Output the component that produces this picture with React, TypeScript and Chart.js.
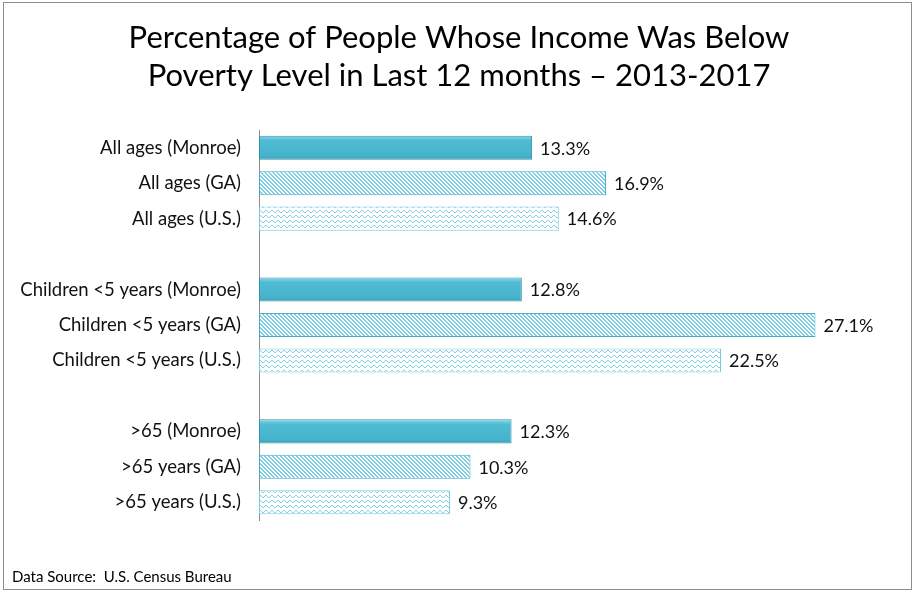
import { useEffect, useRef } from 'react';
import { Chart, registerables } from 'chart.js';
Chart.register(...registerables);

const TITLE_LINES = ['Percentage of People Whose Income Was Below', 'Poverty Level in Last 12 months \u2013 2013-2017'];
const SOURCE = 'Data Source:  U.S. Census Bureau';
const categories = [
  'All ages (Monroe)', 'All ages (GA)', 'All ages (U.S.)', '',
  'Children <5 years (Monroe)', 'Children <5 years (GA)', 'Children <5 years (U.S.)', '',
  '>65 (Monroe)', '>65 years (GA)', '>65 years (U.S.)',
];
const regions = ['Monroe', 'GA', 'US', '', 'Monroe', 'GA', 'US', '', 'Monroe', 'GA', 'US'];
const values = [13.3, 16.9, 14.6, null, 12.8, 27.1, 22.5, null, 12.3, 10.3, 9.3];

const FONT = 'Lato, "Open Sans", sans-serif';

function makeStripe(): CanvasPattern | string {
  const c = document.createElement('canvas');
  c.width = 4; c.height = 4;
  const g = c.getContext('2d')!;
  g.fillStyle = '#ffffff'; g.fillRect(0, 0, 4, 4);
  g.fillStyle = '#7ccde3';
  for (let i = 0; i < 4; i++) { g.fillRect(i, i, 1, 1); g.fillRect((i + 1) % 4, i, 1, 1); }
  return g.createPattern(c, 'repeat') || '#9fdcec';
}
function makeWave(): CanvasPattern | string {
  const c = document.createElement('canvas');
  c.width = 6; c.height = 5;
  const g = c.getContext('2d')!;
  g.fillStyle = '#ffffff'; g.fillRect(0, 0, 6, 5);
  g.fillStyle = '#86d3e8';
  const ys = [1, 0, 0, 1, 2, 2];
  ys.forEach((y, x) => g.fillRect(x, y, 1, 1));
  return g.createPattern(c, 'repeat') || '#d3eff7';
}

export default function App() {
  const ref = useRef<HTMLCanvasElement>(null);
  useEffect(() => {
    document.body.style.margin = '0';
    const stripe = makeStripe();
    const wave = makeWave();
    const solid = (c: any) => {
      const chart = c.chart;
      const ys = chart.scales && chart.scales.y;
      if (!ys || ys.getPixelForValue == null) return '#48b5ce';
      const cy = ys.getPixelForValue(c.dataIndex);
      if (!isFinite(cy)) return '#48b5ce';
      const g = chart.ctx.createLinearGradient(0, cy - 12, 0, cy + 12);
      g.addColorStop(0, '#8fd8ea');
      g.addColorStop(0.2, '#4fbcd4');
      g.addColorStop(0.85, '#46b3cc');
      g.addColorStop(1, '#3a9cb4');
      return g;
    };
    const bg = (c: any) => {
      const r = regions[c.dataIndex];
      return r === 'Monroe' ? solid(c) : r === 'GA' ? stripe : wave;
    };
    const bd = regions.map(r => (r === 'Monroe' ? '#3592aa' : r === 'GA' ? '#49abc4' : '#79c8dc'));

    const decor = {
      id: 'decor',
      afterDraw(chart: any) {
        const ctx = chart.ctx;
        ctx.save();
        ctx.strokeStyle = '#8c8c8c';
        ctx.lineWidth = 1;
        ctx.strokeRect(3.5, 2.5, 908, 587);
        ctx.fillStyle = '#000';
        ctx.textAlign = 'center';
        ctx.textBaseline = 'middle';
        ctx.font = `31px ${FONT}`;
        ctx.fillText(TITLE_LINES[0], 459, 38);
        ctx.fillText(TITLE_LINES[1], 459, 76);
        ctx.textAlign = 'left';
        ctx.font = `15px ${FONT}`;
        ctx.fillText(SOURCE, 12, 577);
        const meta = chart.getDatasetMeta(0);
        ctx.font = `18px ${FONT}`;
        ctx.fillStyle = '#111';
        meta.data.forEach((el: any, i: number) => {
          const v = values[i];
          if (v == null) return;
          ctx.fillText(v.toFixed(1) + '%', el.x + 8, el.y + 1);
        });
        ctx.restore();
      },
    };

    const chart = new Chart(ref.current!, {
      type: 'bar',
      data: {
        labels: categories,
        datasets: [{
          data: values as any,
          backgroundColor: bg as any,
          borderColor: bd,
          borderWidth: 1,
          borderSkipped: false,
          categoryPercentage: 1,
          barPercentage: 0.68,
        }],
      },
      options: {
        indexAxis: 'y',
        animation: false,
        responsive: false,
        layout: { padding: { top: 130, bottom: 72, left: 0, right: 40 } },
        plugins: { legend: { display: false }, tooltip: { enabled: false }, title: { display: false } },
        scales: {
          x: { display: false, min: 0, max: 30 },
          y: {
            grid: { display: false, drawTicks: false },
            border: { display: true, color: '#8c8c8c', width: 1 },
            ticks: { color: '#111', font: { family: FONT, size: 18.5 }, padding: 18, autoSkip: false },
            afterFit(scale: any) { scale.width = 259; },
          },
        },
      },
      plugins: [decor],
    });
    return () => chart.destroy();
  }, []);
  return <canvas ref={ref} width={915} height={592} style={{ display: 'block' }} />;
}
